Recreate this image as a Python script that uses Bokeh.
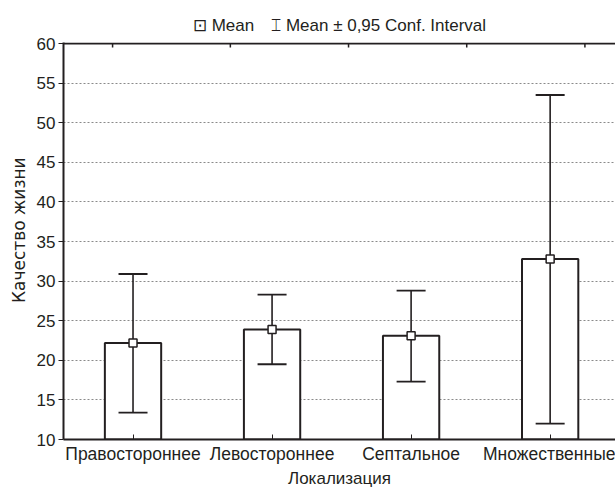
from bokeh.plotting import figure
from bokeh.models import FixedTicker, LinearAxis, Range1d, Title
from bokeh.embed import file_html
from bokeh.resources import INLINE

categories = ["Правостороннее", "Левостороннее", "Септальное", "Множественные"]
means = [22.2, 23.9, 23.1, 32.8]
ci_upper = [30.9, 28.3, 28.8, 53.5]
ci_lower = [13.4, 19.5, 17.3, 12.0]
y_ticks = [10, 15, 20, 25, 30, 35, 40, 45, 50, 55, 60]
top_ticks = [0.853, 1.70, 2.55, 3.40, 4.25]
y_label = "Качество жизни"
x_label = "Локализация"
legend_text = "⊡ Mean\u2003⌶ Mean ± 0,95 Conf. Interval"

FONT = "'Liberation Sans', Arial, Helvetica, sans-serif"
INK = "#231f20"

xs = list(range(1, len(categories) + 1))

p = figure(width=615, height=490, output_backend="svg", toolbar_location=None,
           x_range=Range1d(0.5, 4.47), y_range=Range1d(10, 60.13),
           min_border_left=63, min_border_right=0, min_border_top=42,
           min_border_bottom=50, x_axis_location=None, y_axis_location=None)
p.outline_line_color = None
p.background_fill_color = "white"
p.border_fill_color = "white"

t = Title(text=legend_text, align="center", text_font=FONT,
          text_font_size="17px", text_font_style="normal", text_color=INK,
          offset=0, standoff=14, vertical_align="middle")
p.add_layout(t, "above")

# y axis
yax = LinearAxis(ticker=FixedTicker(ticks=y_ticks),
                 axis_label="\u00a0\u00a0\u00a0\u00a0" + y_label)
yax.axis_line_width = 2
yax.axis_line_color = INK
yax.major_tick_out = 5
yax.major_tick_in = 0
yax.major_tick_line_color = INK
yax.minor_tick_line_color = None
yax.major_label_text_font = FONT
yax.major_label_text_font_size = "17px"
yax.major_label_text_color = INK
yax.major_label_standoff = 3
yax.axis_label_text_font = "DejaVu Sans"
yax.axis_label_text_font_size = "17px"
yax.axis_label_text_font_style = "normal"
yax.axis_label_text_color = INK
yax.axis_label_standoff = 5
p.add_layout(yax, "left")

# x axis
xax = LinearAxis(ticker=FixedTicker(ticks=xs), axis_label=x_label)
xax.major_label_overrides = {x: c for x, c in zip(xs, categories)}
xax.axis_line_width = 2
xax.axis_line_color = INK
xax.major_tick_in = 5
xax.major_tick_out = 0
xax.major_tick_line_color = INK
xax.minor_tick_line_color = None
xax.major_label_text_font = FONT
xax.major_label_text_font_size = "17.5px"
xax.major_label_text_color = INK
xax.major_label_standoff = 4
xax.axis_label_text_font = FONT
xax.axis_label_text_font_size = "17px"
xax.axis_label_text_font_style = "normal"
xax.axis_label_text_color = INK
xax.axis_label_standoff = 2
p.add_layout(xax, "below")

p.ygrid.ticker = FixedTicker(ticks=y_ticks[1:-1])
p.ygrid.grid_line_color = "#8a8a8a"
p.ygrid.grid_line_dash = "2 2"
p.ygrid.grid_line_width = 1.2
p.xgrid.grid_line_color = None

# top frame line with short inward ticks
p.segment(x0=[0.5], y0=[60], x1=[4.47], y1=[60], line_color=INK, line_width=2)
p.segment(x0=top_ticks, y0=[60] * len(top_ticks), x1=top_ticks,
          y1=[59.5] * len(top_ticks), line_color=INK, line_width=1.5)

p.vbar(x=xs, top=means, bottom=10, width=0.405, fill_color="white",
       line_color=INK, line_width=2)
p.segment(x0=xs, y0=ci_lower, x1=xs, y1=ci_upper, line_color=INK, line_width=1.6)
p.scatter(x=xs, y=ci_upper, marker="dash", size=29, line_color=INK, line_width=1.8)
p.scatter(x=xs, y=ci_lower, marker="dash", size=29, line_color=INK, line_width=1.8)
p.scatter(x=xs, y=means, marker="square", size=8, fill_color="white",
          line_color=INK, line_width=1.5)

open("out.html", "w").write(file_html(p, INLINE))
